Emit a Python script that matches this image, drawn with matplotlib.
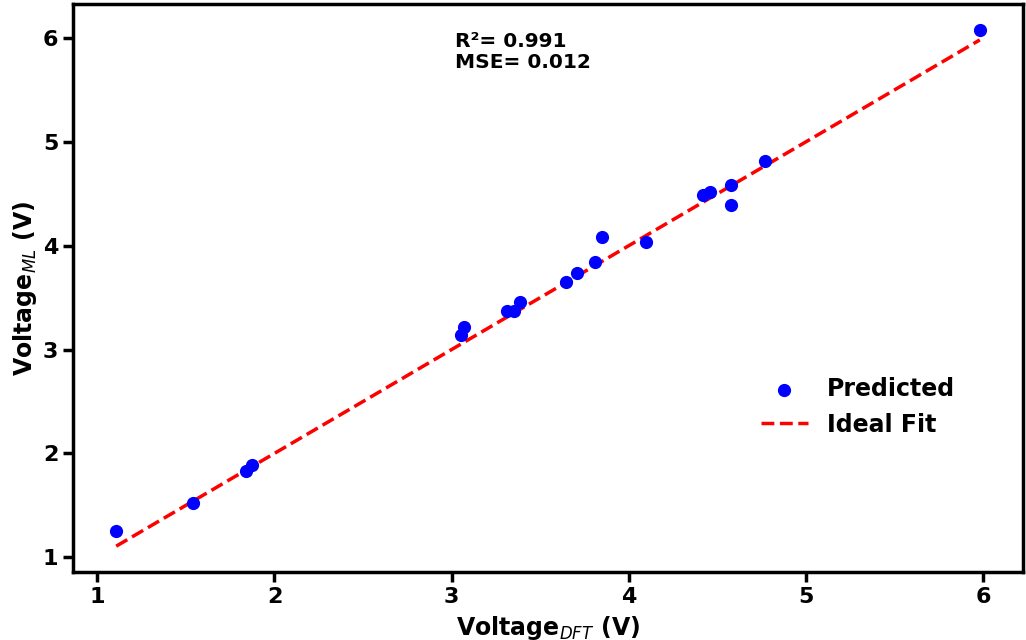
import numpy as np
import matplotlib.pyplot as plt

# ------------------------------------------------------------
# Data
# ------------------------------------------------------------
voltage_dft = [1.107, 1.54, 1.84, 1.873, 3.055, 3.072, 3.31, 3.354, 3.387, 3.646,
               3.708, 3.81, 3.85, 4.097, 4.418, 4.457, 4.575, 4.575, 4.767, 5.98]
voltage_ml = [1.251, 1.52, 1.83, 1.888, 3.143, 3.22, 3.375, 3.375, 3.46, 3.654,
              3.74, 3.838, 4.08, 4.03, 4.485, 4.52, 4.58, 4.388, 4.81, 6.077]
r2_value = 0.991
mse_value = 0.012

plt.rcParams.update({
    "font.family": "DejaVu Sans",
    "axes.linewidth": 2.5,
    # subscripts in the labels are plain italic, not bold
    "mathtext.fontset": "custom",
    "mathtext.it": "DejaVu Sans:italic:normal",
    "mathtext.rm": "DejaVu Sans:bold",
})

fig = plt.figure(figsize=(10.26, 6.4), dpi=100)
ax = fig.add_axes([73 / 1026, 1 - 572 / 640, 950 / 1026, 568 / 640])

ax.scatter(voltage_dft, voltage_ml, s=72, color="blue", label="Predicted", zorder=3)

lo, hi = min(voltage_dft), max(voltage_dft)
ax.plot([lo, hi], [lo, hi], linestyle="--", color="red", linewidth=2.5,
        label="Ideal Fit", zorder=2)

ax.set_xlabel("Voltage$_{DFT}$ (V)", fontsize=17, fontweight="bold", labelpad=5)
ax.set_ylabel("Voltage$_{ML}$ (V)", fontsize=17, fontweight="bold", labelpad=3)

ax.tick_params(axis="both", labelsize=16, width=2.5, length=7)
for lbl in ax.get_xticklabels() + ax.get_yticklabels():
    lbl.set_fontweight("bold")

ax.text(0.402, 0.95, f"R²= {r2_value}\nMSE= {mse_value}", transform=ax.transAxes,
        fontsize=14.5, fontweight="bold", va="top", ha="left", linespacing=1.1)

ax.legend(frameon=False, loc="center", bbox_to_anchor=(0.826, 0.291),
          prop={"size": 17, "weight": "bold"})

fig.savefig("out.png", dpi=100)
